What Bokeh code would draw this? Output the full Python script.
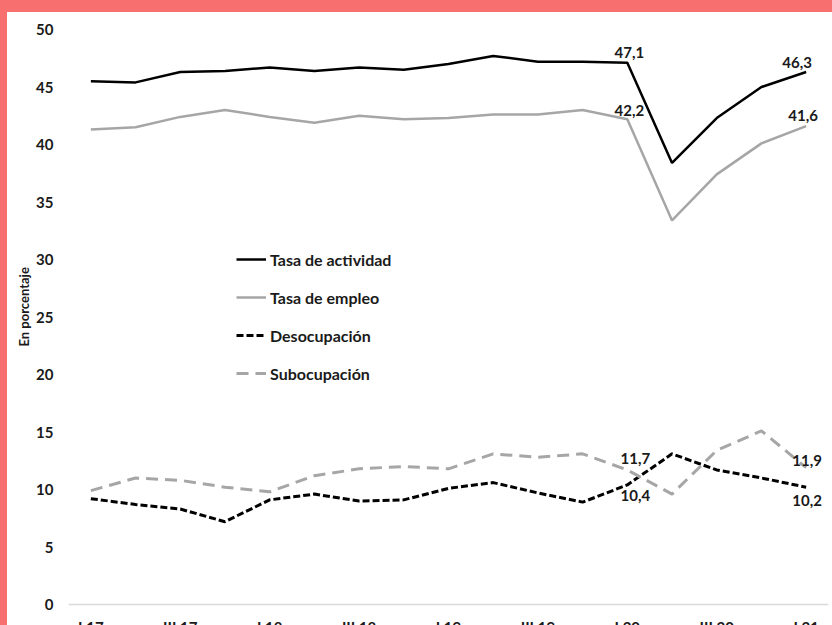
from bokeh.plotting import figure
from bokeh.models import Range1d, FixedTicker, Span, Legend, LegendItem, ColumnDataSource, Div, Title
from bokeh.layouts import column, row
from bokeh.core.properties import value
from bokeh.embed import file_html
from bokeh.resources import INLINE

quarters = ["I 17", "II 17", "III 17", "IV 17", "I 18", "II 18", "III 18", "IV 18",
            "I 19", "II 19", "III 19", "IV 19", "I 20", "II 20", "III 20", "IV 20", "I 21"]
actividad = [45.5, 45.4, 46.3, 46.4, 46.7, 46.4, 46.7, 46.5, 47.0, 47.7, 47.2, 47.2, 47.1, 38.4, 42.3, 45.0, 46.3]
empleo = [41.3, 41.5, 42.4, 43.0, 42.4, 41.9, 42.5, 42.2, 42.3, 42.6, 42.6, 43.0, 42.2, 33.4, 37.4, 40.1, 41.6]
desocupacion = [9.2, 8.7, 8.3, 7.2, 9.1, 9.6, 9.0, 9.1, 10.1, 10.6, 9.7, 8.9, 10.4, 13.1, 11.7, 11.0, 10.2]
subocupacion = [9.9, 11.0, 10.8, 10.2, 9.8, 11.2, 11.8, 12.0, 11.8, 13.1, 12.8, 13.1, 11.7, 9.6, 13.4, 15.1, 11.9]
y_ticks = list(range(0, 55, 5))
labeled_idx = [12, 16]

FONT = "Lato"
SALMON = "#F76F6F"
GREY = "#A6A6A6"
TXT = "#1a1a1a"

idx = list(range(len(quarters)))

p = figure(width=825, height=613, output_backend="svg", toolbar_location=None,
           x_range=Range1d(-0.5, 16.5), y_range=Range1d(-21 / 11.5, 50),
           x_axis_location=None, min_border_left=61, min_border_right=4,
           min_border_top=17, min_border_bottom=0)
p.margin = 0
p.outline_line_color = None
p.background_fill_color = "white"
p.border_fill_color = "white"
p.xgrid.visible = False
p.ygrid.visible = False

ax = p.yaxis[0]
ax.ticker = FixedTicker(ticks=y_ticks)
ax.axis_line_color = None
ax.major_tick_line_color = None
ax.minor_tick_line_color = None
ax.major_tick_out = 0
ax.major_tick_in = 0
ax.minor_tick_out = 0
ax.minor_tick_in = 0
ax.major_label_text_font = FONT
ax.major_label_text_font_style = "bold"
ax.major_label_text_font_size = "15px"
ax.major_label_text_color = TXT
ax.major_label_standoff = 15

# axis title as a side title so it can be shifted above the frame middle
p.add_layout(Title(text="En porcentaje", align="left", offset=279, standoff=4,
                   text_font=FONT, text_font_style="bold", text_font_size="13px",
                   text_color=TXT), "left")

p.add_layout(Span(location=0, dimension="width", line_color="#D9D9D9", line_width=1.5))

r_act = p.line(idx, actividad, line_color="black", line_width=2.5)
r_emp = p.line(idx, empleo, line_color=GREY, line_width=2.5)
r_des = p.line(idx, desocupacion, line_color="black", line_width=3, line_dash="7 3")
r_sub = p.line(idx, subocupacion, line_color=GREY, line_width=3, line_dash="12 7")

# x category labels (every other quarter)
shown = idx[::2]
p.text(x=shown, y=[0] * len(shown), text=[quarters[i] for i in shown],
       text_align="center", text_baseline="top", y_offset=13,
       text_font=value(FONT), text_font_style="bold", text_font_size="15px",
       text_color=TXT)

# data labels
def fmt(v):
    return f"{v:.1f}".replace(".", ",")

lx, ly, lt, dx, dy = [], [], [], [], []
series_offsets = [
    (actividad, [(2, -10), (-9, -10)]),
    (empleo, [(2, -9), (-3, -11)]),
    (desocupacion, [(8, 11), (1, 13)]),
    (subocupacion, [(8, -11), (1, -7)]),
]
for ser, offs in series_offsets:
    for i, (ox, oy) in zip(labeled_idx, offs):
        lx.append(i)
        ly.append(ser[i])
        lt.append(fmt(ser[i]))
        dx.append(ox)
        dy.append(oy)
src = ColumnDataSource(dict(x=lx, y=ly, t=lt, dx=dx, dy=dy))
p.text(x="x", y="y", text="t", x_offset="dx", y_offset="dy", source=src,
       text_align="center", text_baseline="middle",
       text_font=value(FONT), text_font_style="bold", text_font_size="15px",
       text_color=TXT)

legend = Legend(items=[
    LegendItem(label="Tasa de actividad", renderers=[r_act]),
    LegendItem(label="Tasa de empleo", renderers=[r_emp]),
    LegendItem(label="Desocupación", renderers=[r_des]),
    LegendItem(label="Subocupación", renderers=[r_sub]),
], location=(168, 242))
legend.background_fill_alpha = 0
legend.border_line_color = None
legend.padding = 0
legend.margin = 0
legend.spacing = 18
legend.glyph_width = 30
legend.glyph_height = 20
legend.label_height = 20
legend.label_standoff = 4
legend.label_text_font = FONT
legend.label_text_font_style = "bold"
legend.label_text_font_size = "16px"
legend.label_text_color = TXT
p.add_layout(legend)

top_band = Div(text="", width=832, height=12, margin=0, styles={"background-color": SALMON})
left_band = Div(text="", width=7, height=613, margin=0, styles={"background-color": SALMON})
layout = column(top_band, row(left_band, p, spacing=0, margin=0), spacing=0, margin=0)

open("out.html", "w").write(file_html(layout, INLINE))
